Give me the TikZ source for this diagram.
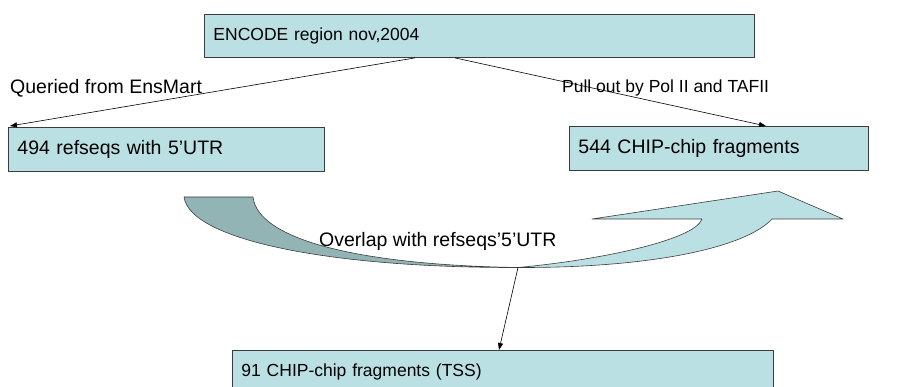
\documentclass[tikz,border=0pt]{standalone}
\usepackage{fontspec}
\setmainfont{Liberation Sans}
\usetikzlibrary{arrows.meta,calc}
\definecolor{boxfill}{RGB}{186,224,227}
\definecolor{darkfill}{RGB}{147,180,181}
\definecolor{edge}{RGB}{60,60,60}
\tikzset{
  stepbox/.style={draw=edge, line width=0.9pt, fill=boxfill, anchor=north west,
    inner xsep=9pt, inner ysep=0pt, align=left},
  freetext/.style={anchor=west, inner sep=0pt},
  conn/.style={draw=black, line width=0.6pt, -{Triangle[length=7pt,width=5pt]}},
  ribbon/.style={draw=edge, line width=0.6pt, line join=round}
}
\newcommand{\fsA}{\fontsize{17.5}{20}\selectfont}
\newcommand{\fsB}{\fontsize{19.5}{22}\selectfont}
\begin{document}
\begin{tikzpicture}[x=1pt,y=-1pt]
\useasboundingbox (0,0) rectangle (909,387);
% boxes
\node[stepbox, font=\fsA, minimum width=550pt, minimum height=43pt, text width=532pt] (encode) at (204,14) {ENCODE region nov,2004};
\node[stepbox, font=\fsB, minimum width=316pt, minimum height=44pt, text width=298pt] (ref) at (8,127) {494 refseqs with 5’UTR};
\node[stepbox, font=\fsB, minimum width=299pt, minimum height=44pt, text width=281pt] (chip) at (569,126) {544 CHIP-chip fragments};
\node[stepbox, font=\fsA, minimum width=541pt, minimum height=43pt, text width=523pt] (tss) at (232,350) {91 CHIP-chip fragments (TSS)};
% free labels
\node[freetext, font=\fsB] (lq) at (10,88) {Queried from EnsMart};
% curved ribbon arrow
\coordinate (pinch) at (518,267.5);
\filldraw[ribbon, fill=darkfill] (184,197) -- (253,197)
  .. controls (258,240) and (360,265) .. (pinch)
  .. controls (330,268) and (190,240) .. (184,197) -- cycle;
\filldraw[ribbon, fill=boxfill] (pinch)
  .. controls (600,260) and (695,240) .. (702,219)
  -- (592,219) -- (778,191) -- (843,219) -- (772,219)
  .. controls (745,248) and (650,268) .. (pinch) -- cycle;
\node[freetext, font=\fsB] (lo) at (319,241) {Overlap with refseqs’5’UTR};
\node[freetext, font=\fsA] (lp) at (562,88) {Pull out by Pol II and TAFII};
% connectors
\draw[conn] ($(encode.south west)+(211,0)$) -- ($(ref.north west)+(2,-1)$);
\draw[conn] ($(encode.south west)+(251,0)$) -- ($(chip.north west)+(197,0)$);
\draw[conn] (pinch) -- ($(tss.north west)+(267,0)$);
\end{tikzpicture}
\end{document}
